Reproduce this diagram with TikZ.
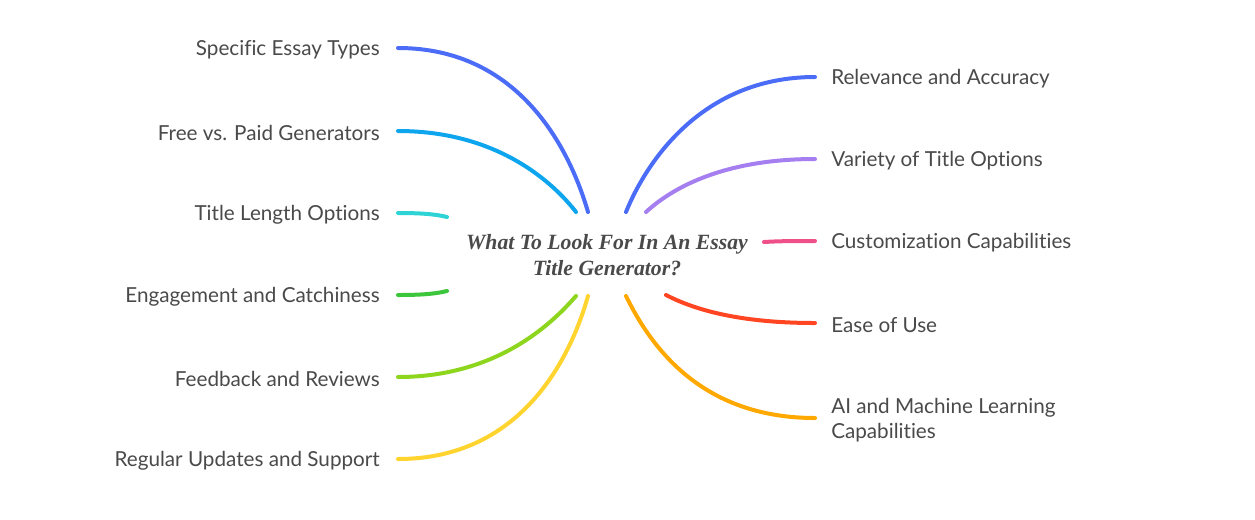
\documentclass[tikz,border=0pt]{standalone}
\usepackage{fontspec}
\setmainfont{Lato}[Ligatures={NoCommon}]
\newfontfamily\titlefont{Liberation Serif}
\definecolor{txt}{HTML}{4A4A4A}
\definecolor{cA}{HTML}{4A6CF7}
\definecolor{cB}{HTML}{0EA5EF}
\definecolor{cC}{HTML}{2ED3D6}
\definecolor{cD}{HTML}{3CC63C}
\definecolor{cE}{HTML}{8ED51E}
\definecolor{cF}{HTML}{FFD42F}
\definecolor{cG}{HTML}{A57EF0}
\definecolor{cH}{HTML}{F0508A}
\definecolor{cI}{HTML}{FF4522}
\definecolor{cJ}{HTML}{FFA800}
\begin{document}
\begin{tikzpicture}[x=0.75pt,y=-0.75pt,
  lbl/.style={font=\fontsize{15.5}{18.75}\selectfont, text=txt, inner sep=0pt},
  lft/.style={lbl, anchor=east},
  rgt/.style={lbl, anchor=west, align=left},
  br/.style={line width=3pt, line cap=round}]
\useasboundingbox (0,0) rectangle (1255,519);
\fill[white] (0,0) rectangle (1255,519);
% centre
\node[font=\titlefont\bfseries\itshape\fontsize{16.3}{19.5}\selectfont, text=txt, align=center] (c) at (607,255) {What To Look For In An Essay\\Title Generator?};
% left labels
\node[lft] (l1) at (380,50) {Specific Essay Types};
\node[lft] (l2) at (380,133) {Free vs. Paid Generators};
\node[lft] (l3) at (380,215) {Title Length Options};
\node[lft] (l4) at (380,297) {Engagement and Catchiness};
\node[lft] (l5) at (380,379) {Feedback and Reviews};
\node[lft] (l6) at (380,461) {Regular Updates and Support};
% right labels
\node[rgt] (r1) at (831,79) {Relevance and Accuracy};
\node[rgt] (r2) at (831,161) {Variety of Title Options};
\node[rgt] (r3) at (831,243) {Customization Capabilities};
\node[rgt] (r4) at (831,325) {Ease of Use};
\node[rgt] (r5) at (831,420) {AI and Machine Learning\\Capabilities};
% endpoints
\coordinate (a1) at (398,48);  \coordinate (b1) at (588,212);
\coordinate (a2) at (398,131); \coordinate (b2) at (576,212);
\coordinate (a3) at (398,213); \coordinate (b3) at (447,217);
\coordinate (a4) at (398,295); \coordinate (b4) at (447,291);
\coordinate (a5) at (398,377); \coordinate (b5) at (576,296);
\coordinate (a6) at (398,459); \coordinate (b6) at (588,296);
\coordinate (p1) at (815,77);  \coordinate (q1) at (626,212);
\coordinate (p2) at (815,159); \coordinate (q2) at (646,212);
\coordinate (p3) at (815,241); \coordinate (q3) at (764,242);
\coordinate (p4) at (815,323); \coordinate (q4) at (666,295);
\coordinate (p5) at (815,418); \coordinate (q5) at (626,296);
% left branches
\draw[br, cA] (a1) .. controls (520,48) and (570,150) .. (b1);
\draw[br, cB] (a2) .. controls (500,131) and (555,185) .. (b2);
\draw[br, cC] (a3) .. controls (420,213) and (435,214) .. (b3);
\draw[br, cD] (a4) .. controls (420,295) and (435,294) .. (b4);
\draw[br, cE] (a5) .. controls (500,377) and (555,320) .. (b5);
\draw[br, cF] (a6) .. controls (520,459) and (570,360) .. (b6);
% right branches
\draw[br, cA] (p1) .. controls (700,77) and (645,165) .. (q1);
\draw[br, cG] (p2) .. controls (720,159) and (670,190) .. (q2);
\draw[br, cH] (p3) .. controls (795,241) and (780,241) .. (q3);
\draw[br, cI] (p4) .. controls (740,323) and (695,310) .. (q4);
\draw[br, cJ] (p5) .. controls (700,418) and (650,345) .. (q5);
\end{tikzpicture}
\end{document}
